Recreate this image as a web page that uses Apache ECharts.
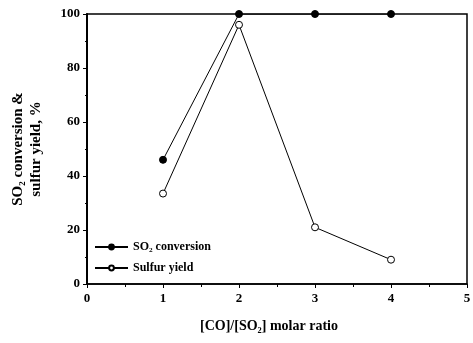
<!DOCTYPE html>
<html>
<head>
<meta charset="utf-8">
<script src="https://cdn.jsdelivr.net/npm/echarts@6/dist/echarts.min.js"></script>
<style>
  html, body { margin: 0; padding: 0; background: #fff; }
  #chart { width: 473px; height: 343px; }
</style>
</head>
<body>
<div id="chart"></div>
<script>
// Molar ratio [CO]/[SO2] and measured performance (%)
const ratios = [1, 2, 3, 4];
const so2Conversion = [46, 100, 100, 100];
const sulfurYield = [33.5, 96, 21, 9];
const xTicks = [0, 1, 2, 3, 4, 5];
const yTicks = [0, 20, 40, 60, 80, 100];

const serif = '"Liberation Serif", "DejaVu Serif", serif';

const chart = echarts.init(document.getElementById('chart'));
chart.setOption({
  animation: false,
  backgroundColor: '#fff',
  grid: {
    left: 87, right: 6, top: 14, bottom: 59,
    outerBoundsMode: 'none', containLabel: false,
    show: true, borderColor: '#000', borderWidth: 1.5, backgroundColor: 'transparent'
  },
  legend: {
    orient: 'vertical',
    left: 89, top: 236,
    itemWidth: 33, itemHeight: 6, itemGap: 9,
    textStyle: { fontFamily: serif, fontWeight: 'bold', fontSize: 12, color: '#000' },
    data: ['SO₂ conversion', 'Sulfur yield']
  },
  xAxis: {
    type: 'value',
    min: xTicks[0], max: xTicks[xTicks.length - 1], interval: 1,
    name: '[CO]/[SO₂] molar ratio',
    nameLocation: 'middle', nameGap: 35,
    nameTextStyle: { fontFamily: serif, fontWeight: 'bold', fontSize: 14, color: '#000', padding: [0, 16, 0, 0] },
    axisLine: { lineStyle: { color: '#000', width: 1.5 } },
    axisTick: { show: true, inside: false, length: 4, lineStyle: { color: '#000' } },
    minorTick: { show: true, splitNumber: 2, length: 3, lineStyle: { color: '#000' } },
    splitLine: { show: false },
    axisLabel: { fontFamily: serif, fontWeight: 'bold', fontSize: 13, color: '#000', margin: 8 }
  },
  yAxis: {
    type: 'value',
    min: yTicks[0], max: yTicks[yTicks.length - 1], interval: 20,
    name: 'SO₂ conversion &\nsulfur yield, %',
    nameLocation: 'middle', nameGap: 42, nameRotate: 90,
    nameTextStyle: { fontFamily: serif, fontWeight: 'bold', fontSize: 15, color: '#000', lineHeight: 18 },
    axisLine: { lineStyle: { color: '#000', width: 2 } },
    axisTick: { show: true, inside: false, length: 4, lineStyle: { color: '#000' } },
    minorTick: { show: true, splitNumber: 2, length: 2, lineStyle: { color: '#000' } },
    splitLine: { show: false },
    axisLabel: { fontFamily: serif, fontWeight: 'bold', fontSize: 13, color: '#000', margin: 7 }
  },
  series: [
    {
      name: 'SO₂ conversion',
      type: 'line',
      data: ratios.map((r, i) => [r, so2Conversion[i]]),
      symbol: 'circle', symbolSize: 7,
      lineStyle: { color: '#000', width: 1 },
      itemStyle: { color: '#000', borderColor: '#000', borderWidth: 1 },
      z: 3
    },
    {
      name: 'Sulfur yield',
      type: 'line',
      data: ratios.map((r, i) => [r, sulfurYield[i]]),
      symbol: 'circle', symbolSize: 7,
      lineStyle: { color: '#000', width: 1 },
      itemStyle: { color: '#fff', borderColor: '#000', borderWidth: 1 },
      z: 2
    }
  ]
});
</script>
</body>
</html>
